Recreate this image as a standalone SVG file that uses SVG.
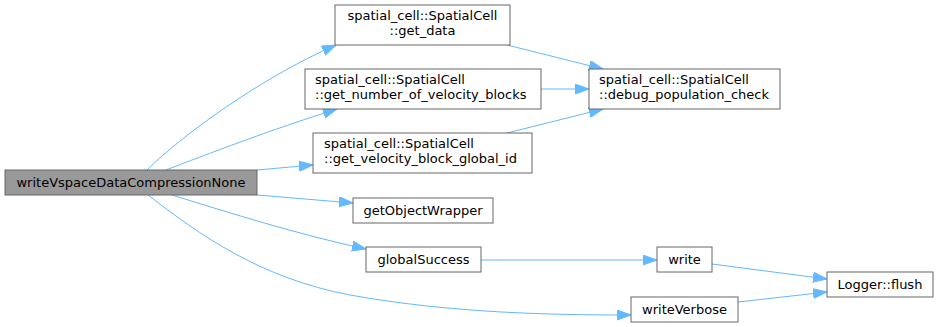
<svg xmlns="http://www.w3.org/2000/svg" width="939" height="327" viewBox="0 0 939 327">
<style>
.node rect{fill:#ffffff;stroke:#666666;stroke-width:1}
.node.root rect{fill:#999999}
text{font-family:"DejaVu Sans","Liberation Sans",sans-serif;font-size:13px;fill:#000000}
.c{text-anchor:middle}
.edges path{fill:none;stroke:#63b8ff;stroke-width:1;marker-end:url(#arr)}
</style>
<defs>
<marker id="arr" markerUnits="userSpaceOnUse" markerWidth="16" markerHeight="12" refX="14" refY="5" orient="auto">
<path d="M0,0 L14,5 L0,10 z" fill="#63b8ff" stroke="#63b8ff" stroke-width="1"/>
</marker>
</defs>
<rect width="939" height="327" fill="#ffffff"/>
<g class="edges">
<path d="M147,170 C180,137 260,78 336,45"/>
<path d="M166,170 C205,155 270,130 337,109"/>
<path d="M257,170 L313,165"/>
<path d="M257,195 L353,203"/>
<path d="M172,195 C230,213 300,235 366,249"/>
<path d="M148,195 C200,235 260,278 350,295 C450,313 550,315 631,315"/>
<path d="M507,45 L603,69"/>
<path d="M541,89 L589,89"/>
<path d="M507,133 L603,109"/>
<path d="M481,260 L657,260"/>
<path d="M712,264 L827,279"/>
<path d="M738,302 L827,292"/>
</g>
<g id="node1" class="node root"><rect x="5" y="170" width="252" height="25"/><text class="c" x="131" y="187">writeVspaceDataCompressionNone</text></g>
<g id="node2" class="node"><rect x="335" y="5" width="175" height="40"/><text class="c" x="422.5" y="20">spatial_cell::SpatialCell</text><text class="c" x="422.5" y="35">::get_data</text></g>
<g id="node3" class="node"><rect x="305" y="69" width="236" height="40"/><text x="315" y="84">spatial_cell::SpatialCell</text><text x="315" y="99">::get_number_of_velocity_blocks</text></g>
<g id="node4" class="node"><rect x="313" y="133" width="219" height="40"/><text x="324" y="148">spatial_cell::SpatialCell</text><text x="324" y="163">::get_velocity_block_global_id</text></g>
<g id="node5" class="node"><rect x="589" y="69" width="191" height="40"/><text x="599" y="84">spatial_cell::SpatialCell</text><text x="599" y="99">::debug_population_check</text></g>
<g id="node6" class="node"><rect x="353" y="198" width="140" height="25"/><text class="c" x="423" y="215">getObjectWrapper</text></g>
<g id="node7" class="node"><rect x="366" y="247" width="115" height="25"/><text class="c" x="423.5" y="264">globalSuccess</text></g>
<g id="node8" class="node"><rect x="657" y="247" width="55" height="25"/><text class="c" x="684.5" y="264">write</text></g>
<g id="node9" class="node"><rect x="827" y="272" width="106" height="25"/><text class="c" x="880" y="289">Logger::flush</text></g>
<g id="node10" class="node"><rect x="631" y="297" width="107" height="25"/><text class="c" x="684.5" y="314">writeVerbose</text></g>
</svg>
